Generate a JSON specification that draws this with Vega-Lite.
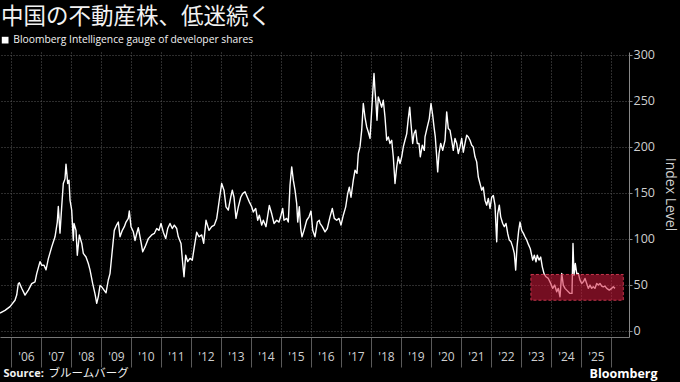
{
  "$schema": "https://vega.github.io/schema/vega-lite/v6.json",
  "width": 629,
  "height": 285,
  "autosize": {"type": "none"},
  "padding": {"left": 0, "top": 52, "right": 51, "bottom": 45},
  "background": "#000000",
  "config": {"view": {"stroke": null}, "font": "Open Sans"},
  "title": {
    "text": "中国の不動産株、低迷続く",
    "anchor": "start",
    "frame": "group",
    "font": "Noto Sans CJK JP",
    "fontSize": 22.5,
    "fontWeight": "normal",
    "color": "#f2f2f2",
    "baseline": "alphabetic",
    "offset": -11,
    "dx": 1
  },
  "layer": [
    {
      "data": {"values": [
        {"t":2005.633,"v":19},{"t":2005.8,"v":22},{"t":2005.967,"v":26},{"t":2006.133,"v":33},{"t":2006.19,"v":38.6},{"t":2006.243,"v":51},{"t":2006.277,"v":52},{"t":2006.357,"v":46},{"t":2006.467,"v":38.6},{"t":2006.577,"v":44},{"t":2006.69,"v":51},{"t":2006.8,"v":53},{"t":2006.857,"v":62},{"t":2006.967,"v":75},{"t":2007.023,"v":71},{"t":2007.1,"v":71},{"t":2007.167,"v":66},{"t":2007.243,"v":78},{"t":2007.357,"v":91},{"t":2007.467,"v":102},{"t":2007.543,"v":118},{"t":2007.577,"v":135},{"t":2007.633,"v":106},{"t":2007.69,"v":135},{"t":2007.743,"v":160},{"t":2007.8,"v":165},{"t":2007.833,"v":181},{"t":2007.89,"v":160},{"t":2007.933,"v":163.6},{"t":2007.967,"v":142},{"t":2008.023,"v":131},{"t":2008.077,"v":98},{"t":2008.1,"v":116.5},{"t":2008.167,"v":109},{"t":2008.21,"v":82},{"t":2008.277,"v":104},{"t":2008.357,"v":95},{"t":2008.41,"v":84},{"t":2008.5,"v":80},{"t":2008.577,"v":73},{"t":2008.633,"v":66},{"t":2008.723,"v":51},{"t":2008.8,"v":40},{"t":2008.857,"v":29.6},{"t":2008.91,"v":37},{"t":2008.967,"v":49},{"t":2009.023,"v":47.6},{"t":2009.1,"v":44},{"t":2009.167,"v":41},{"t":2009.243,"v":55},{"t":2009.3,"v":62},{"t":2009.377,"v":87.5},{"t":2009.443,"v":109},{"t":2009.523,"v":115},{"t":2009.577,"v":118},{"t":2009.633,"v":102},{"t":2009.71,"v":109},{"t":2009.777,"v":113},{"t":2009.833,"v":118},{"t":2009.91,"v":122},{"t":2009.943,"v":130},{"t":2010.0,"v":113},{"t":2010.077,"v":107.4},{"t":2010.133,"v":98},{"t":2010.19,"v":105.6},{"t":2010.243,"v":112},{"t":2010.323,"v":98},{"t":2010.39,"v":85.7},{"t":2010.467,"v":91},{"t":2010.577,"v":100},{"t":2010.69,"v":104},{"t":2010.777,"v":105.6},{"t":2010.857,"v":111},{"t":2010.933,"v":109},{"t":2011.0,"v":116.5},{"t":2011.077,"v":107},{"t":2011.157,"v":100},{"t":2011.223,"v":111},{"t":2011.3,"v":116.5},{"t":2011.377,"v":111},{"t":2011.443,"v":114.7},{"t":2011.523,"v":111},{"t":2011.577,"v":102},{"t":2011.667,"v":94.8},{"t":2011.723,"v":73},{"t":2011.767,"v":58.5},{"t":2011.823,"v":82},{"t":2011.89,"v":75},{"t":2011.967,"v":78.5},{"t":2012.043,"v":76.6},{"t":2012.11,"v":91},{"t":2012.19,"v":107},{"t":2012.267,"v":102},{"t":2012.357,"v":104},{"t":2012.423,"v":95},{"t":2012.5,"v":120},{"t":2012.6,"v":109},{"t":2012.69,"v":113},{"t":2012.777,"v":114.7},{"t":2012.857,"v":122},{"t":2012.943,"v":142},{"t":2013.023,"v":160},{"t":2013.1,"v":152.7},{"t":2013.167,"v":134.6},{"t":2013.243,"v":131},{"t":2013.323,"v":145},{"t":2013.377,"v":152.7},{"t":2013.433,"v":145},{"t":2013.5,"v":122},{"t":2013.577,"v":134.6},{"t":2013.657,"v":145},{"t":2013.723,"v":149},{"t":2013.8,"v":151},{"t":2013.877,"v":145},{"t":2013.943,"v":140},{"t":2014.023,"v":134.6},{"t":2014.077,"v":129},{"t":2014.157,"v":132.8},{"t":2014.223,"v":120},{"t":2014.277,"v":125.5},{"t":2014.357,"v":114.7},{"t":2014.41,"v":120},{"t":2014.5,"v":113},{"t":2014.577,"v":129},{"t":2014.61,"v":136},{"t":2014.69,"v":127},{"t":2014.767,"v":116.5},{"t":2014.857,"v":120},{"t":2014.933,"v":118},{"t":2015.0,"v":125.5},{"t":2015.057,"v":132.8},{"t":2015.1,"v":120},{"t":2015.19,"v":122},{"t":2015.243,"v":118},{"t":2015.3,"v":158},{"t":2015.357,"v":178},{"t":2015.41,"v":163.6},{"t":2015.467,"v":152.7},{"t":2015.523,"v":138},{"t":2015.557,"v":118},{"t":2015.61,"v":134.6},{"t":2015.657,"v":111},{"t":2015.7,"v":102},{"t":2015.767,"v":109},{"t":2015.857,"v":120},{"t":2015.933,"v":123.7},{"t":2016.0,"v":130},{"t":2016.057,"v":109},{"t":2016.133,"v":102},{"t":2016.21,"v":118},{"t":2016.277,"v":120},{"t":2016.3,"v":116.5},{"t":2016.377,"v":113},{"t":2016.467,"v":107.4},{"t":2016.543,"v":111},{"t":2016.633,"v":123.7},{"t":2016.71,"v":132.8},{"t":2016.777,"v":122},{"t":2016.857,"v":120},{"t":2016.933,"v":122},{"t":2017.0,"v":114.7},{"t":2017.077,"v":125.5},{"t":2017.157,"v":134.6},{"t":2017.223,"v":149},{"t":2017.277,"v":156},{"t":2017.333,"v":145},{"t":2017.41,"v":163.6},{"t":2017.467,"v":174.5},{"t":2017.533,"v":171},{"t":2017.577,"v":192.6},{"t":2017.633,"v":199.8},{"t":2017.69,"v":218},{"t":2017.743,"v":247},{"t":2017.8,"v":232},{"t":2017.857,"v":221.5},{"t":2017.91,"v":216},{"t":2017.967,"v":209},{"t":2018.023,"v":239.7},{"t":2018.057,"v":258},{"t":2018.1,"v":279.6},{"t":2018.133,"v":261},{"t":2018.167,"v":247},{"t":2018.2,"v":228.8},{"t":2018.243,"v":254},{"t":2018.3,"v":248.7},{"t":2018.357,"v":243},{"t":2018.41,"v":250.5},{"t":2018.467,"v":232},{"t":2018.523,"v":207},{"t":2018.577,"v":210.6},{"t":2018.633,"v":203.5},{"t":2018.69,"v":207},{"t":2018.743,"v":189},{"t":2018.8,"v":160},{"t":2018.857,"v":178},{"t":2018.91,"v":189},{"t":2018.967,"v":181.7},{"t":2019.023,"v":189},{"t":2019.077,"v":199.8},{"t":2019.133,"v":207},{"t":2019.19,"v":214},{"t":2019.243,"v":230.6},{"t":2019.29,"v":243},{"t":2019.333,"v":225},{"t":2019.39,"v":203.5},{"t":2019.433,"v":214},{"t":2019.49,"v":218},{"t":2019.543,"v":203.5},{"t":2019.6,"v":203.5},{"t":2019.643,"v":189},{"t":2019.71,"v":201.6},{"t":2019.777,"v":196},{"t":2019.8,"v":210.6},{"t":2019.877,"v":221.5},{"t":2019.943,"v":230.6},{"t":2020.0,"v":247},{"t":2020.057,"v":234},{"t":2020.1,"v":221.5},{"t":2020.143,"v":210.6},{"t":2020.19,"v":189},{"t":2020.223,"v":172.6},{"t":2020.267,"v":192.6},{"t":2020.323,"v":203.5},{"t":2020.39,"v":196},{"t":2020.467,"v":207},{"t":2020.523,"v":237.8},{"t":2020.577,"v":219.8},{"t":2020.633,"v":218},{"t":2020.69,"v":207},{"t":2020.743,"v":196},{"t":2020.8,"v":209},{"t":2020.857,"v":203.5},{"t":2020.91,"v":192.6},{"t":2020.967,"v":199.8},{"t":2021.023,"v":209},{"t":2021.077,"v":194},{"t":2021.133,"v":203.5},{"t":2021.19,"v":212.5},{"t":2021.243,"v":210.6},{"t":2021.3,"v":207},{"t":2021.357,"v":201.6},{"t":2021.41,"v":199.8},{"t":2021.467,"v":189},{"t":2021.523,"v":183.5},{"t":2021.577,"v":167},{"t":2021.633,"v":160},{"t":2021.69,"v":152.7},{"t":2021.743,"v":156},{"t":2021.8,"v":141.8},{"t":2021.857,"v":136.4},{"t":2021.91,"v":143.7},{"t":2021.967,"v":132.8},{"t":2022.023,"v":145},{"t":2022.077,"v":147},{"t":2022.133,"v":136.4},{"t":2022.19,"v":96.5},{"t":2022.223,"v":127},{"t":2022.277,"v":136.4},{"t":2022.323,"v":123.7},{"t":2022.39,"v":116.5},{"t":2022.443,"v":113},{"t":2022.5,"v":116.5},{"t":2022.557,"v":105.6},{"t":2022.61,"v":98.4},{"t":2022.667,"v":96.5},{"t":2022.723,"v":91},{"t":2022.777,"v":84},{"t":2022.823,"v":65.8},{"t":2022.867,"v":91},{"t":2022.923,"v":109},{"t":2022.967,"v":118},{"t":2023.023,"v":109},{"t":2023.077,"v":106},{"t":2023.133,"v":102},{"t":2023.19,"v":98.4},{"t":2023.243,"v":94},{"t":2023.31,"v":89},{"t":2023.39,"v":76.6},{"t":2023.443,"v":82},{"t":2023.5,"v":74.8},{"t":2023.543,"v":82},{"t":2023.6,"v":76.6},{"t":2023.657,"v":80},{"t":2023.71,"v":69.3},{"t":2023.767,"v":62},{"t":2023.833,"v":58.5},{"t":2023.91,"v":56.7},{"t":2023.99,"v":51.3},{"t":2024.057,"v":45.9},{"t":2024.123,"v":49.5},{"t":2024.19,"v":42.2},{"t":2024.243,"v":45.9},{"t":2024.3,"v":36.7},{"t":2024.357,"v":62.2},{"t":2024.41,"v":49.5},{"t":2024.467,"v":45.9},{"t":2024.523,"v":44},{"t":2024.577,"v":42.2},{"t":2024.633,"v":40.4},{"t":2024.7,"v":40.4},{"t":2024.733,"v":94.8},{"t":2024.767,"v":60.3},{"t":2024.81,"v":73},{"t":2024.857,"v":62.2},{"t":2024.91,"v":62.2},{"t":2024.967,"v":54.9},{"t":2025.023,"v":51.3},{"t":2025.077,"v":53},{"t":2025.133,"v":56.7},{"t":2025.19,"v":51.3},{"t":2025.243,"v":45.9},{"t":2025.3,"v":49.5},{"t":2025.357,"v":45.9},{"t":2025.41,"v":47.6},{"t":2025.467,"v":45.9},{"t":2025.523,"v":51.3},{"t":2025.577,"v":49.5},{"t":2025.633,"v":51.3},{"t":2025.69,"v":48.4},{"t":2025.743,"v":47.6},{"t":2025.8,"v":48.4},{"t":2025.857,"v":45.9},{"t":2025.943,"v":44},{"t":2026.023,"v":45.9},{"t":2026.077,"v":47.6},{"t":2026.133,"v":45.9}
      ]},
      "mark": {"type": "line", "strokeWidth": 1.4, "strokeJoin": "round"},
      "encoding": {
        "x": {
          "field": "t", "type": "quantitative",
          "scale": {"domain": [2005.633, 2026.6], "nice": false, "zero": false},
          "axis": {
            "values": [2006,2007,2008,2009,2010,2011,2012,2013,2014,2015,2016,2017,2018,2019,2020,2021,2022,2023,2024,2025,2026],
            "labelExpr": "datum.value > 2025 ? '' : \"'\" + substring(toString(datum.value), 2, 4)",
            "labelOffset": 15,
            "labelPadding": -16,
            "labelFontSize": 12,
            "labelColor": "#cfcfcf",
            "labelFont": "Open Sans",
            "labelFlush": false,
            "labelOverlap": false,
            "tickSize": 30,
            "tickColor": "#5a5a5a",
            "tickWidth": 1,
            "domainColor": "#777777",
            "domainWidth": 1,
            "grid": true,
            "gridColor": "#5a5a5a",
            "gridDash": [1, 2],
            "gridWidth": 1,
            "title": "Source:",
            "titleFont": "Open Sans",
            "titleFontSize": 11,
            "titleFontWeight": "bold",
            "titleColor": "#f2f2f2",
            "titleAlign": "left",
            "titleAnchor": "start",
            "titleBaseline": "alphabetic",
            "titleX": 3,
            "titleY": 39
          }
        },
        "y": {
          "field": "v", "type": "quantitative",
          "scale": {"domain": [-7, 303], "nice": false, "zero": false},
          "axis": {
            "orient": "right",
            "values": [0, 50, 100, 150, 200, 250, 300],
            "labelFontSize": 12.5,
            "labelColor": "#cfcfcf",
            "labelFont": "Open Sans",
            "labelPadding": 1,
            "tickSize": 3,
            "tickColor": "#888888",
            "domainColor": "#888888",
            "grid": true,
            "gridColor": "#5a5a5a",
            "gridDash": [1, 2],
            "gridWidth": 1,
            "title": "Index Level",
            "titleFont": "Open Sans",
            "titleFontSize": 14,
            "titleFontWeight": "normal",
            "titleColor": "#cfcfcf",
            "titleAngle": 90,
            "titleAlign": "center",
            "titleBaseline": "middle",
            "titleX": 40,
            "titleY": 142
          }
        },
        "color": {
          "datum": "Bloomberg Intelligence gauge of developer shares",
          "scale": {"range": ["#ffffff"]},
          "legend": {
            "orient": "none",
            "legendX": 0,
            "legendY": -17,
            "title": null,
            "padding": 0,
            "symbolType": "square",
            "symbolSize": 45,
            "symbolFillColor": "#ffffff",
            "symbolStrokeColor": "#ffffff",
            "symbolStrokeWidth": 0,
            "labelFont": "Open Sans",
            "labelFontSize": 10.3,
            "labelColor": "#f2f2f2",
            "labelOffset": 3,
            "labelLimit": 400,
            "encode": {"symbols": {"update": {"fill": {"value": "#ffffff"}, "strokeWidth": {"value": 0}}}}
          }
        }
      }
    },
    {
      "data": {"values": [{"start": 2023.33, "end": 2026.41, "low": 33, "high": 61}]},
      "mark": {"type": "rect", "fill": "#d41a3c", "fillOpacity": 0.55, "stroke": "#e8405a", "strokeOpacity": 0.8, "strokeWidth": 1, "strokeDash": [3, 2]},
      "encoding": {
        "x": {
          "field": "start", "type": "quantitative",
          "scale": {"domain": [2005.633, 2026.6], "nice": false, "zero": false},
          "axis": {
            "orient": "top", "labels": false, "ticks": false, "domain": false, "grid": false,
            "title": "ブルームバーグ",
            "titleFont": "Noto Sans CJK JP",
            "titleFontSize": 11.5,
            "titleFontWeight": "normal",
            "titleColor": "#f2f2f2",
            "titleAlign": "left",
            "titleAnchor": "start",
            "titleBaseline": "alphabetic",
            "titleX": 48,
            "titleY": 324
          }
        },
        "x2": {"field": "end"},
        "y": {
          "field": "low", "type": "quantitative",
          "scale": {"domain": [-7, 303], "nice": false, "zero": false},
          "axis": {
            "orient": "left", "labels": false, "ticks": false, "domain": false, "grid": false,
            "title": "Bloomberg",
            "titleFont": "Open Sans",
            "titleFontSize": 12.5,
            "titleFontWeight": "bold",
            "titleColor": "#ffffff",
            "titleAngle": 0,
            "titleAlign": "right",
            "titleBaseline": "alphabetic",
            "titleX": 657,
            "titleY": 325
          }
        },
        "y2": {"field": "high"}
      }
    }
  ],
  "resolve": {"axis": {"x": "independent", "y": "independent"}}
}
